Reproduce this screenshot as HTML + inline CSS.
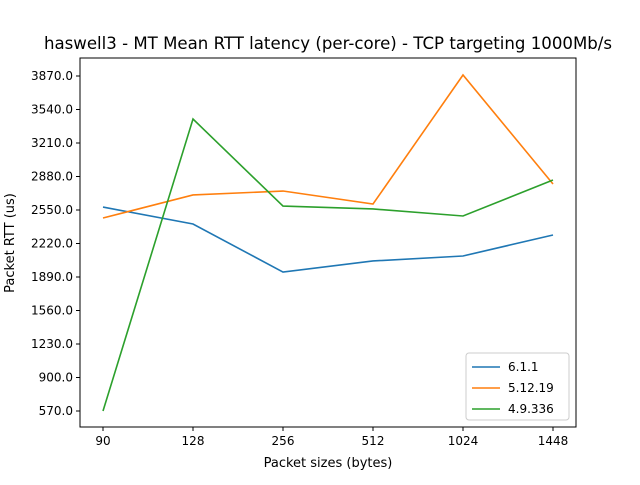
<!DOCTYPE html>
<html><head><meta charset="utf-8"><style>
body{margin:0;background:#fff;}
svg text{font-family:"DejaVu Sans","Liberation Sans",sans-serif;}
</style></head><body>
<svg id="chart" width="640" height="480" xmlns="http://www.w3.org/2000/svg">
<rect width="640" height="480" fill="#fff"/>
<text x="328" y="49" font-size="16.6" text-anchor="middle">haswell3 - MT Mean RTT latency (per-core) - TCP targeting 1000Mb/s</text>
<g id="plot"></g>
<text x="328" y="467" font-size="13" text-anchor="middle">Packet sizes (bytes)</text>
<text x="14" y="243" font-size="13" text-anchor="middle" transform="rotate(-90 14 243)">Packet RTT (us)</text>
</svg>
<script>
const categories=["90","128","256","512","1024","1448"];
const yTicks=[570,900,1230,1560,1890,2220,2550,2880,3210,3540,3870];
const seriesNames=["6.1.1","5.12.19","4.9.336"];
const s611=[2579,2412,1939,2048,2097,2304];
const s51219=[2471,2698,2737,2609,3880,2806];
const s49336=[570,3446,2589,2560,2491,2845];
const colors=["#1f77b4","#ff7f0e","#2ca02c"];
const allSeries=[s611,s51219,s49336];
const L=80,R=576,T=58,B=427;
const NS="http://www.w3.org/2000/svg";
const g=document.getElementById('plot');
function xS(i){return 103+i*(553-103)/(categories.length-1);}
function yS(v){return 411-(v-570)*(335/3300);}
function mk(t,a,p){const e=document.createElementNS(NS,t);for(const k in a)e.setAttribute(k,a[k]);(p||g).appendChild(e);return e;}
yTicks.forEach(v=>{const y=yS(v);
 const l=mk('line',{x1:L-4,x2:L,y1:y,y2:y,stroke:'#000'});
 
 
 const t=mk('text',{x:L-7,y:y+4,'font-size':12,'text-anchor':'end'});t.textContent=v.toFixed(1);
 
 
});
categories.forEach((c,i)=>{const x=xS(i);
 const l=mk('line',{x1:x,x2:x,y1:B,y2:B+4,stroke:'#000'});
 
 
 const t=mk('text',{x:x,y:B+18,'font-size':12,'text-anchor':'middle'});t.textContent=c;
 
 
});
allSeries.forEach((s,k)=>{
 const p=mk('polyline',{points:s.map((v,i)=>xS(i)+','+yS(v)).join(' '),fill:'none',stroke:colors[k],'stroke-width':1.6});
 
 
});
const fr=mk('rect',{x:L,y:T,width:R-L,height:B-T,fill:'none',stroke:'#000','stroke-width':1});


const lg=mk('g',{});


mk('rect',{x:466,y:353,width:103,height:67,fill:'#fff',stroke:'#ccc',rx:3},lg);
seriesNames.forEach((n,k)=>{const y=367+k*21;
 const e=mk('g',{},lg);
 
 
 mk('line',{x1:472,x2:500,y1:y,y2:y,stroke:colors[k],'stroke-width':1.6},e);
 const t=mk('text',{x:508,y:y+4,'font-size':12},e);t.textContent=n;
});
</script>
</body></html>
